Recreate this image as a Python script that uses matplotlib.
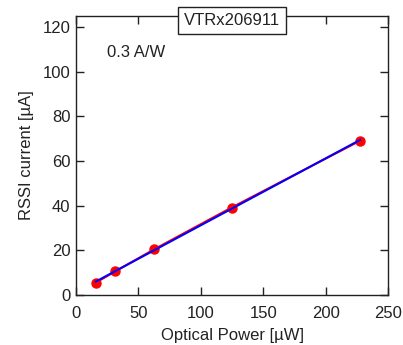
import numpy as np
import matplotlib.pyplot as plt

plt.rcParams['font.family'] = ['Liberation Sans', 'DejaVu Sans']

# measured points
optical_power = [15.8, 31.5, 62.7, 124.7, 227.6]   # uW
rssi_current = [5.5, 10.6, 20.5, 39.2, 69.1]        # uA
xticks = [0, 50, 100, 150, 200, 250]
yticks = [0, 20, 40, 60, 80, 100, 120]

fig = plt.figure(figsize=(4.03, 3.45), dpi=100)
ax = fig.add_axes([0.1886, 0.1449, 0.7742, 0.8087])

ax.plot(optical_power, rssi_current, color='red', lw=1.5, marker='o', ms=6.5)

# linear fit
p = np.polyfit(optical_power, rssi_current, 1)
xf = np.array([optical_power[0], optical_power[-1]])
ax.plot(xf, np.polyval(p, xf), color='blue', lw=1.5)

ax.set_xlim(0, 250)
ax.set_ylim(0, 125)
ax.set_xticks(xticks)
ax.set_yticks(yticks)
ax.tick_params(direction='in', length=6, width=1, labelsize=12,
               top=True, right=True, pad=4, colors='#222222')
ax.tick_params(axis='x', pad=8)
for s in ax.spines.values():
    s.set_linewidth(1)
    s.set_color('#222222')

ax.set_xlabel('Optical Power [µW]', fontsize=12, color='#222222', labelpad=5)
ax.set_ylabel('RSSI current [µA]', fontsize=12, color='#222222', labelpad=6)

ax.text(25, 108.5, '0.3 A/W', fontsize=12, va='center', color='#222222')
ax.text(0.5, 0.985, 'VTRx206911', transform=ax.transAxes, ha='center', va='center',
        fontsize=12, color='#222222',
        bbox=dict(boxstyle='square,pad=0.35', fc='white', ec='#222222', lw=1))

fig.savefig('out.png', dpi=100)
